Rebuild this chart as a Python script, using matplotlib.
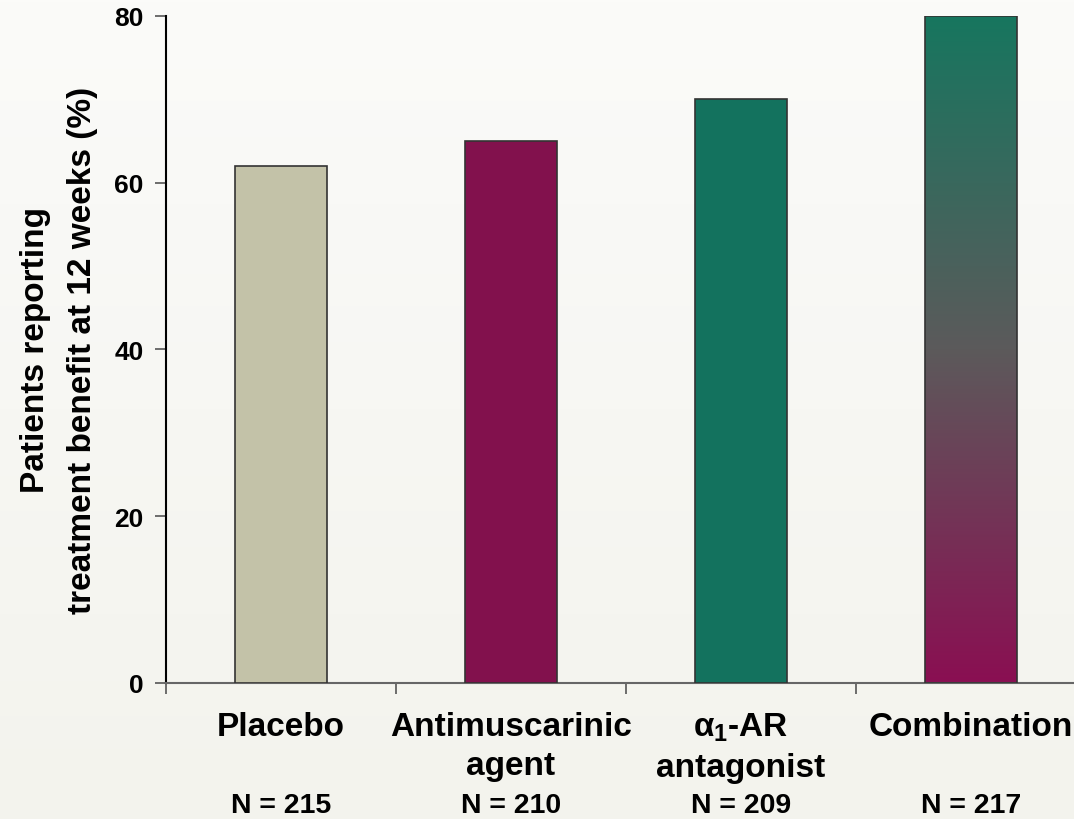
import matplotlib.pyplot as plt
import numpy as np
from matplotlib.colors import LinearSegmentedColormap

plt.rcParams['font.family'] = ['Liberation Sans', 'DejaVu Sans']
plt.rcParams['font.weight'] = 'bold'
plt.rcParams['mathtext.fontset'] = 'custom'
plt.rcParams['mathtext.bf'] = 'Liberation Sans:bold'
plt.rcParams['mathtext.rm'] = 'Liberation Sans:bold'
plt.rcParams['mathtext.default'] = 'bf'

# data
categories = ["Placebo", "Antimuscarinic\nagent", "α$_1$-AR\nantagonist", "Combination"]
n_labels = ["N = 215", "N = 210", "N = 209", "N = 217"]
values = [62, 65, 70, 80]
colors = ["#c3c2a8", "#82114d", "#13725e", None]  # last bar gets a gradient

fig = plt.figure(figsize=(10.74, 8.2), dpi=100)

# soft background gradient, lighter at the top
bg = fig.add_axes([0, 0, 1, 1], zorder=-10)
grad = np.linspace(0, 1, 256).reshape(-1, 1)
bg_cmap = LinearSegmentedColormap.from_list("bg", ["#fbfbf9", "#f3f3ed"])
bg.imshow(grad, aspect="auto", cmap=bg_cmap, extent=[0, 1, 0, 1])
bg.axis("off")

ax = fig.add_axes([0.1546, 0.1659, 0.8454, 0.8134])
ax.patch.set_alpha(0)

x = np.arange(len(values))
bars = ax.bar(x, values, width=0.4, color=[c if c else "none" for c in colors],
              edgecolor="#333333", linewidth=1.2, zorder=3)

# gradient fill for the combination bar
grad_cmap = LinearSegmentedColormap.from_list("comb", ["#8a0f52", "#5c5a5b", "#17765f"])
b = bars[3]
bx, bw, bh = b.get_x(), b.get_width(), b.get_height()
im = ax.imshow(np.linspace(0, 1, 256).reshape(-1, 1), origin="lower", aspect="auto",
               cmap=grad_cmap, extent=[bx, bx + bw, 0, bh], zorder=2)
im.set_clip_path(b)

ax.set_xlim(-0.5, 3.448)
ax.set_ylim(0, 80)
ax.set_yticks([0, 20, 40, 60, 80])
ax.tick_params(axis="y", labelsize=19, length=8, width=1.2, color="#555555", pad=8)
for lab in ax.get_yticklabels():
    lab.set_fontweight("bold")

# category labels; boundary ticks as minor ticks
ax.set_xticks(x)
ax.set_xticklabels(categories, fontsize=24, fontweight="bold", linespacing=1.35, va="top")
ax.tick_params(axis="x", which="major", length=0, pad=20)
ax.set_xticks([-0.5, 0.5, 1.5, 2.5], minor=True)
ax.tick_params(axis="x", which="minor", length=8, width=1.2, color="#555555")

for xi, n in zip(x, n_labels):
    ax.annotate(n, xy=(xi, 0), xycoords=("data", "axes fraction"), xytext=(0, -122),
                textcoords="offset pixels", ha="center", va="center",
                fontsize=20.5, fontweight="bold")

ax.set_ylabel("Patients reporting\ntreatment benefit at 12 weeks (%)",
              fontsize=24, fontweight="bold", linespacing=1.65, labelpad=12)

ax.spines["top"].set_visible(False)
ax.spines["right"].set_visible(False)
ax.spines["left"].set_color("black")
ax.spines["left"].set_linewidth(1.5)
ax.spines["bottom"].set_color("#666666")
ax.spines["bottom"].set_linewidth(1.5)

fig.savefig("out.png", dpi=100)
